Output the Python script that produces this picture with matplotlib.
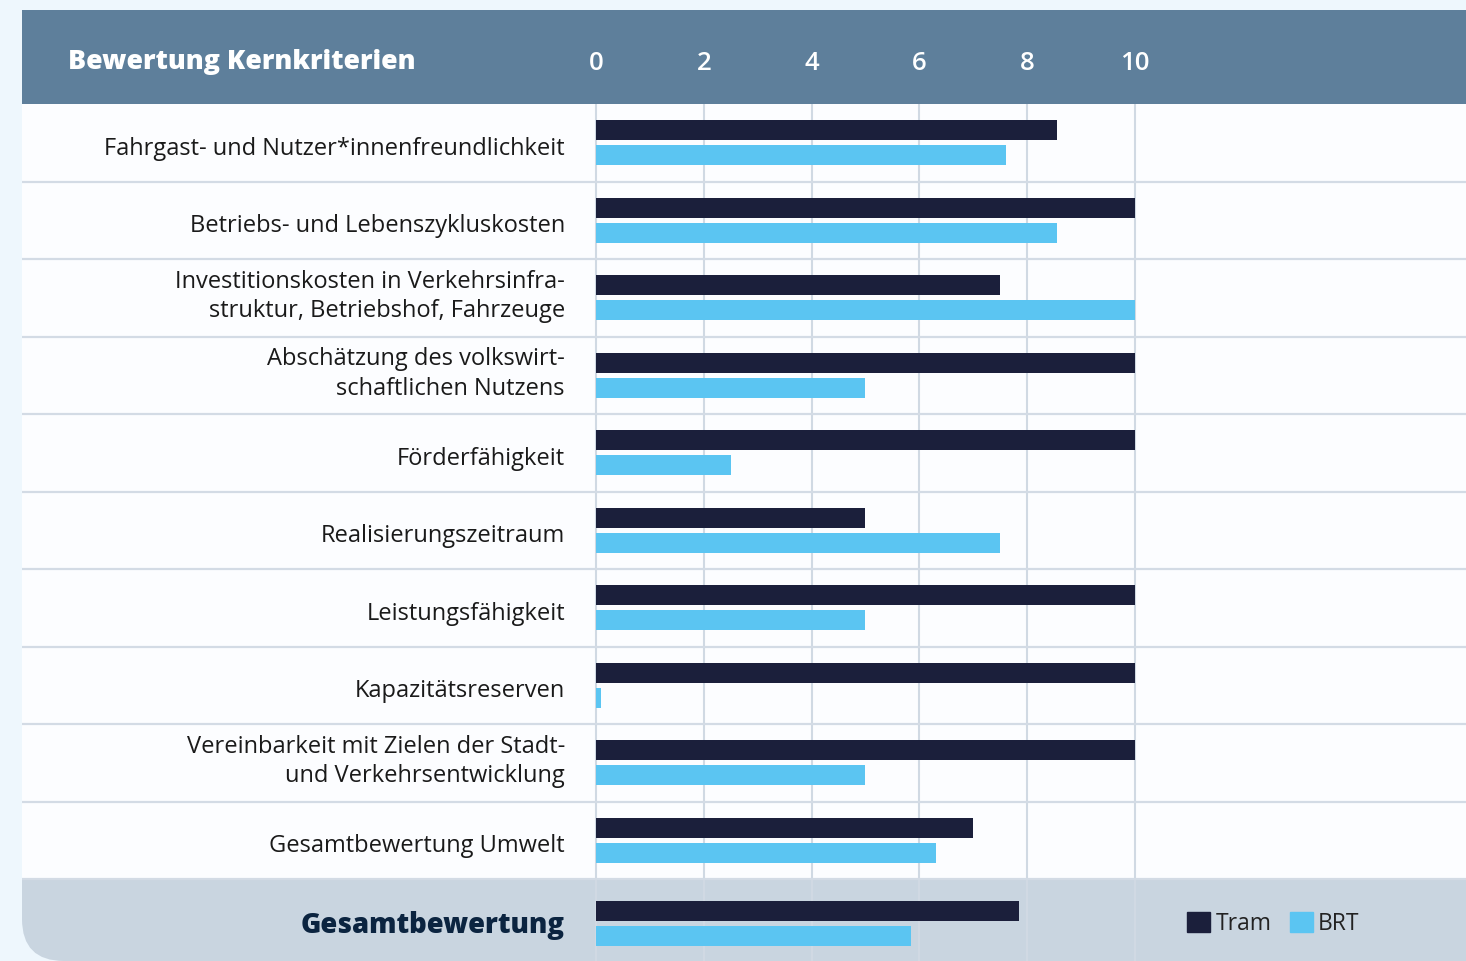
import matplotlib
matplotlib.use("Agg")
import matplotlib.pyplot as plt
from matplotlib.patches import Rectangle, FancyBboxPatch, Patch

plt.rcParams['font.family'] = ['Open Sans', 'DejaVu Sans']

# ---------------- data ----------------
categories = [
    "Fahrgast- und Nutzer*innenfreundlichkeit",
    "Betriebs- und Lebenszykluskosten",
    "Investitionskosten in Verkehrsinfra-\nstruktur, Betriebshof, Fahrzeuge",
    "Abschätzung des volkswirt-\nschaftlichen Nutzens",
    "Förderfähigkeit",
    "Realisierungszeitraum",
    "Leistungsfähigkeit",
    "Kapazitätsreserven",
    "Vereinbarkeit mit Zielen der Stadt-\nund Verkehrsentwicklung",
    "Gesamtbewertung Umwelt",
    "Gesamtbewertung",
]
tram = [8.55, 10, 7.5, 10, 10, 5, 10, 10, 10, 7.0, 7.85]
brt = [7.6, 8.55, 10, 5, 2.5, 7.5, 5, 0.1, 5, 6.3, 5.85]
series_names = ["Tram", "BRT"]
xticks = [0, 2, 4, 6, 8, 10]
title = "Bewertung Kernkriterien"

# ---------------- style ----------------
C_TRAM = "#1b1f3b"
C_BRT = "#5bc5f2"
C_HEAD = "#5e7f9b"
C_TOTAL = "#c9d5e0"
C_PAGE = "#eef7fd"
C_ROW = "#fcfdff"
C_GRID = "#d0d9e3"

W, H = 1466, 961
fig = plt.figure(figsize=(W / 100, H / 100), dpi=100)

# background layer in pixel coordinates
bg = fig.add_axes([0, 0, 1, 1])
bg.set_xlim(0, W)
bg.set_ylim(H, 0)
bg.axis("off")
bg.add_patch(Rectangle((0, 0), W, H, color=C_PAGE, zorder=0))
bg.add_patch(FancyBboxPatch((22, 700), W + 200, H - 700, boxstyle="round,pad=0,rounding_size=42",
                            color=C_TOTAL, zorder=1, linewidth=0))
bg.add_patch(Rectangle((22, 104), W, 775, color=C_ROW, zorder=2, linewidth=0))
bg.add_patch(Rectangle((22, 10), W, 94, color=C_HEAD, zorder=3, linewidth=0))
bg.text(68, 62, title, color="white", fontsize=19.3, fontweight=800,
        va="center", ha="left", zorder=4)

# main chart axes
x0_px, unit_px = 596, 53.9
row_px = 77.5
ax = fig.add_axes([22 / W, 0, 1 - 22 / W, (H - 104) / H])
ax.patch.set_visible(False)
ax.set_xlim((22 - x0_px) / unit_px, (W - x0_px) / unit_px)
n = len(categories)
ax.set_ylim(-0.5 + (H - 104) / row_px, -0.5)

centers = list(range(n - 1)) + [n - 1 + 0.07]
off = 0.16
bh = 0.26
ax.barh([c - off for c in centers], tram, height=bh, color=C_TRAM, zorder=3)
ax.barh([c + off for c in centers], brt, height=bh, color=C_BRT, zorder=3)

# grid
for t in xticks:
    ax.axvline(t, color=C_GRID, lw=1.5, zorder=1)
for b in range(n - 1):
    ax.axhline(b + 0.5, color="#d3dbe5", lw=1.6, zorder=1)

ax.set_xticks(xticks)
ax.set_xticklabels([str(t) for t in xticks])
ax.xaxis.set_ticks_position("top")
ax.tick_params(axis="x", length=0, pad=20, labelcolor="white", labelsize=18.5)
for lb in ax.get_xticklabels():
    lb.set_fontweight(600)
ax.set_yticks([])

# category labels, right-aligned left of the zero line
label_x = -31 / unit_px
for i, (c, lab) in enumerate(zip(centers, categories)):
    last = i == n - 1
    if last:
        dy = 0.035
    elif "\n" in lab:
        dy = -0.015
    else:
        dy = 0.075
    ax.text(label_x, c + dy, lab, ha="right", va="center", linespacing=1.3,
            fontsize=19.8 if last else 17,
            fontweight=800 if last else "normal",
            color="#0b2440" if last else "#1a1a1a", zorder=4)

for s in ax.spines.values():
    s.set_visible(False)

handles = [Patch(color=C_TRAM), Patch(color=C_BRT)]
fig.legend(handles, series_names, loc="center left",
           bbox_to_anchor=(1166 / W, 1 - 924 / H), frameon=False, ncol=2,
           handlelength=1.0, handleheight=1.0, handletextpad=0.25,
           columnspacing=0.8, fontsize=16.5, labelcolor="#222222")

fig.savefig("out.png", dpi=100)
